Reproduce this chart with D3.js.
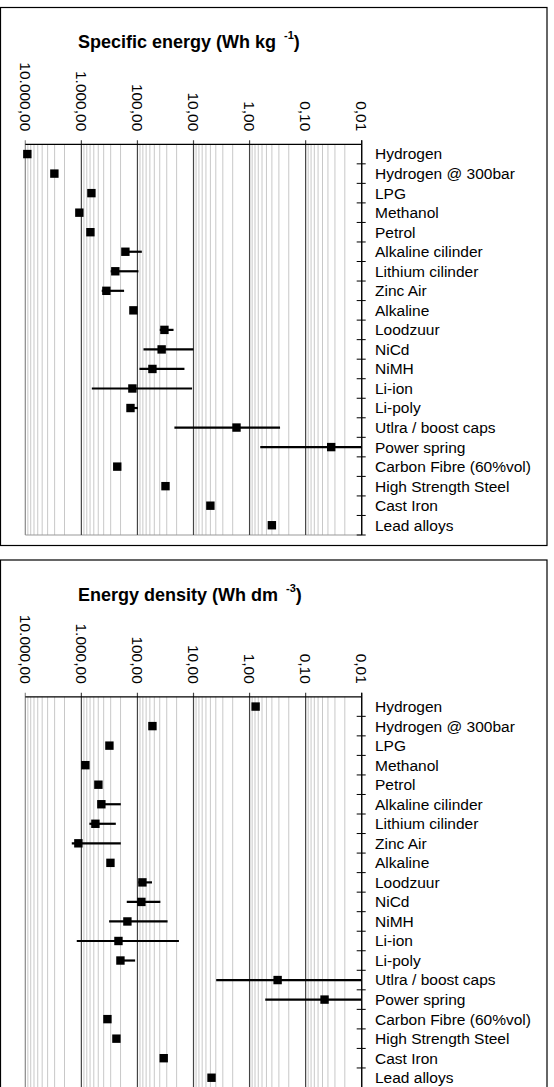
<!DOCTYPE html>
<html>
<head>
<meta charset="utf-8">
<script src="https://cdn.jsdelivr.net/npm/d3@7"></script>
<style>
    body { margin: 0; background: white; }
</style>
</head>
<body>
<script>
const categories = [
    "Hydrogen", "Hydrogen @ 300bar", "LPG", "Methanol", "Petrol",
    "Alkaline cilinder", "Lithium cilinder", "Zinc Air", "Alkaline", "Loodzuur",
    "NiCd", "NiMH", "Li-ion", "Li-poly", "Utlra / boost caps",
    "Power spring", "Carbon Fibre (60%vol)", "High Strength Steel", "Cast Iron", "Lead alloys",
]

const tickValues = [10000, 1000, 100, 10, 1, 0.1, 0.01]
const tickLabels = ["10.000,00", "1.000,00", "100,00", "10,00", "1,00", "0,10", "0,01"]

// Specific energy (Wh/kg)
const specificValue = [9200, 3030, 662, 1086, 690, 164, 248, 358, 118, 33, 37, 54, 123, 133, 1.71, 0.035, 229, 31.6, 5.0, 0.40]
const specificMax   = [null, null, null, null, null, 164, 300, 433, null, 40, 78, 92, 651, 133, 21.9, 0.645, null, null, null, null]
const specificMin   = [null, null, null, null, null, 83.5, 96, 173, null, 22.7, 10, 14.5, 10.6, 98, 0.286, 0.01, null, null, null, null]

// Energy density (Wh/dm3)
const densityValue = [0.78, 54, 316, 848, 497, 440, 562, 1131, 303, 81.5, 85, 151, 218, 201, 0.316, 0.046, 343, 237, 34, 4.77]
const densityMax   = [null, null, null, null, null, 440, 720, 1483, null, 96, 155, 320, 1208, 201, 3.94, 0.525, null, null, null, null]
const densityMin   = [null, null, null, null, null, 198, 243, 198, null, 55, 39, 29, 18.2, 110, 0.01, 0.01, null, null, null, null]

const W = 554, H = 1087
const font = "Arial, 'Liberation Sans', sans-serif"

function rows(v, mx, mn) {
    return categories.map((c, i) => ({cat: c, v: v[i], max: mx[i], min: mn[i]}))
}

function drawPanel(svg, top, title, sup, data) {
    const g = svg.append("g").attr("transform", `translate(0,${top})`)
    const plotTop = 137.3
    const plotH = 390.7
    const x = d3.scaleLog().domain([10000, 0.01]).range([25.3, 361.7])
    const y = d3.scaleBand().domain(categories).range([plotTop, plotTop + plotH])

    g.append("rect")
        .attr("x", 0.5).attr("y", 0.5)
        .attr("width", 546.5).attr("height", 538)
        .attr("fill", "none").attr("stroke", "#000").attr("stroke-width", 1.2)

    const t = g.append("text")
        .attr("x", 78).attr("y", 41)
        .attr("font-family", font).attr("font-weight", "bold").attr("font-size", 18)
        .text(title)
    t.append("tspan").attr("dx", 8).attr("dy", -9).attr("font-size", 11).text(sup)
    t.append("tspan").attr("dy", 9).attr("font-size", 18).text(")")

    const ticks = x.ticks()
    const isMajor = d => Math.abs(Math.log10(d) - Math.round(Math.log10(d))) < 1e-6

    g.append("g")
        .selectAll("line")
        .data(ticks.filter(d => !isMajor(d)))
        .join("line")
            .attr("x1", d => x(d)).attr("x2", d => x(d))
            .attr("y1", plotTop).attr("y2", plotTop + plotH)
            .attr("stroke", "#c8c8c8").attr("stroke-width", 1)

    g.append("line")
        .attr("x1", x(10000)).attr("x2", x(0.01))
        .attr("y1", plotTop + plotH).attr("y2", plotTop + plotH)
        .attr("stroke", "#999").attr("stroke-width", 1.2)

    g.append("g")
        .selectAll("line")
        .data(tickValues)
        .join("line")
            .attr("x1", d => x(d)).attr("x2", d => x(d))
            .attr("y1", plotTop - 4).attr("y2", plotTop + plotH)
            .attr("stroke", (d, i) => i == 0 ? "#888" : "#444").attr("stroke-width", 1.2)

    g.append("line")
        .attr("x1", x(10000)).attr("x2", x(0.01))
        .attr("y1", plotTop).attr("y2", plotTop)
        .attr("stroke", "#000").attr("stroke-width", 1.2)

    g.append("g")
        .selectAll("text")
        .data(tickValues)
        .join("text")
            .attr("transform", d => `translate(${x(d)},${plotTop - 13}) rotate(90)`)
            .attr("text-anchor", "end")
            .attr("dy", "0.35em")
            .attr("font-family", font).attr("font-size", 15.5)
            .text((d, i) => tickLabels[i])

    // right category axis
    g.append("line")
        .attr("x1", x(0.01)).attr("x2", x(0.01))
        .attr("y1", plotTop - 4).attr("y2", plotTop + plotH)
        .attr("stroke", "#000").attr("stroke-width", 1.2)

    g.append("g")
        .selectAll("line")
        .data(categories.slice(1).concat(["end"]))
        .join("line")
            .attr("x1", x(0.01) - 5).attr("x2", x(0.01) + 4)
            .attr("y1", (d, i) => plotTop + (i + 1) * y.step())
            .attr("y2", (d, i) => plotTop + (i + 1) * y.step())
            .attr("stroke", "#000").attr("stroke-width", 1)

    g.append("g")
        .selectAll("text")
        .data(categories)
        .join("text")
            .attr("x", 375)
            .attr("y", d => y(d) + y.bandwidth() / 2)
            .attr("dy", "0.35em")
            .attr("font-family", font).attr("font-size", 15.5)
            .text(d => d)

    g.append("g")
        .selectAll("line")
        .data(data.filter(d => d.max != null))
        .join("line")
            .attr("x1", d => x(d.max)).attr("x2", d => x(d.min))
            .attr("y1", d => y(d.cat) + y.bandwidth() / 2)
            .attr("y2", d => y(d.cat) + y.bandwidth() / 2)
            .attr("stroke", "#000").attr("stroke-width", 2.2)

    const s = 8.4
    g.append("g")
        .selectAll("rect")
        .data(data)
        .join("rect")
            .attr("x", d => x(d.v) - s / 2)
            .attr("y", d => y(d.cat) + y.bandwidth() / 2 - s / 2)
            .attr("width", s).attr("height", s)
            .attr("fill", "#000")
}

const svg = d3.select("body").append("svg")
    .attr("width", W).attr("height", H)

drawPanel(svg, 7, "Specific energy (Wh kg", "-1", rows(specificValue, specificMax, specificMin))
drawPanel(svg, 559.5, "Energy density (Wh dm", "-3", rows(densityValue, densityMax, densityMin))
</script>
</body>
</html>
